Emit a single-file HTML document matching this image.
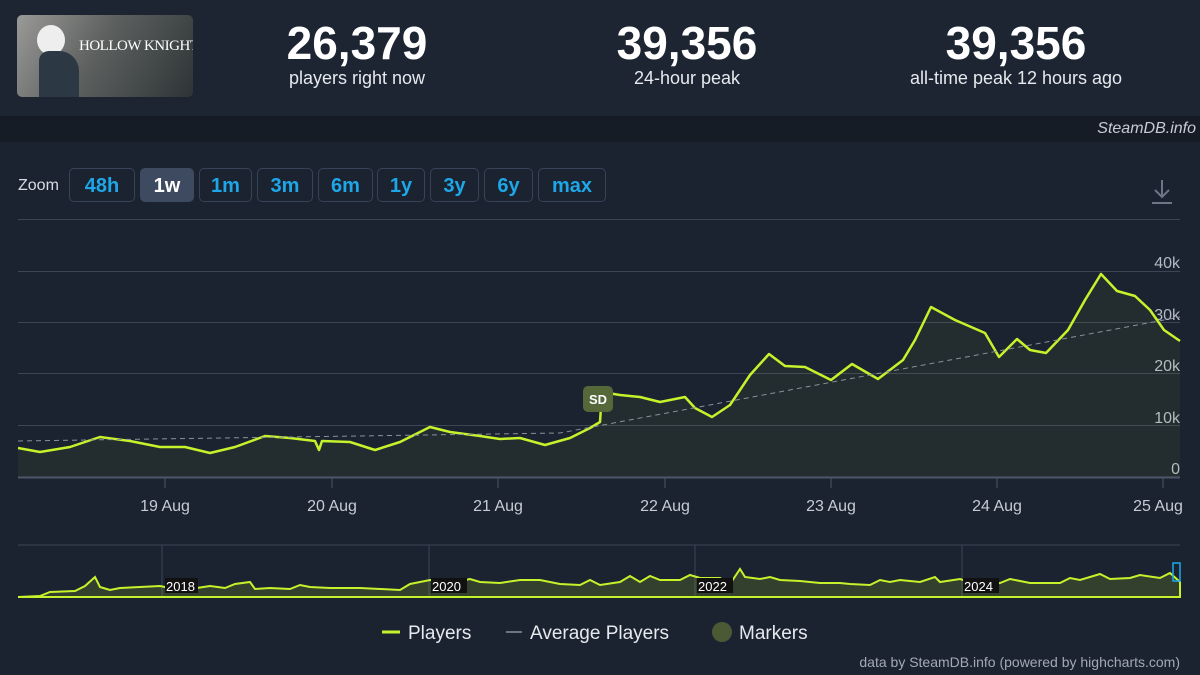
<!DOCTYPE html><html><head><style>
body{margin:0;width:1200px;height:675px;background:#1b2230;font-family:"Liberation Sans",sans-serif;overflow:hidden;position:relative;color:#fff}
.top{position:absolute;left:0;top:0;width:1200px;height:116px;background:#1d2533}
.stat{position:absolute;top:18px;text-align:center;width:300px}
.stat b{display:block;font-size:46px;font-weight:bold;line-height:50px}
.stat span{font-size:18px;color:#e6e9ee}
.band{position:absolute;top:116px;left:0;width:1200px;height:26px;background:#161c26}
.btn{position:absolute;top:168px;height:34px;border:1px solid #374356;border-radius:5px;color:#1ea7e8;font-weight:bold;font-size:20px;line-height:34px;text-align:center;box-sizing:border-box}
</style></head><body>
<div class="top"></div>
<div style="position:absolute;left:17px;top:15px;width:176px;height:82px;border-radius:5px;background:linear-gradient(120deg,#9a9a98,#5d605f 45%,#2e3436);overflow:hidden">
<div style="position:absolute;left:20px;top:10px;width:28px;height:30px;border-radius:50%;background:#eee"></div>
<div style="position:absolute;left:22px;top:36px;width:40px;height:46px;background:#2c3844;border-radius:10px 20px 0 0"></div>
<div style="position:absolute;left:62px;top:23px;font-family:'Liberation Serif',serif;font-size:15px;color:#fff;white-space:nowrap;letter-spacing:-0.5px">HOLLOW KNIGHT</div></div>
<div class="stat" style="left:207px"><b>26,379</b><span>players right now</span></div>
<div class="stat" style="left:537px"><b>39,356</b><span>24-hour peak</span></div>
<div class="stat" style="left:866px"><b>39,356</b><span>all-time peak 12 hours ago</span></div>
<div class="band"></div>
<div style="position:absolute;right:4px;top:120px;font-size:16px;font-style:italic;color:#c7ccd4">SteamDB.info</div>
<div style="position:absolute;left:18px;top:177px;font-size:16px;color:#d8dde4">Zoom</div>
<div class="btn" style="left:69px;width:66px">48h</div>
<div class="btn" style="left:140px;width:54px;background:#3d4a5f;border-color:#3d4a5f;color:#fff">1w</div>
<div class="btn" style="left:199px;width:53px">1m</div>
<div class="btn" style="left:257px;width:56px">3m</div>
<div class="btn" style="left:318px;width:55px">6m</div>
<div class="btn" style="left:377px;width:48px">1y</div>
<div class="btn" style="left:430px;width:49px">3y</div>
<div class="btn" style="left:484px;width:49px">6y</div>
<div class="btn" style="left:538px;width:68px">max</div>
<svg width="1200" height="675" style="position:absolute;left:0;top:0">
<path d="M1162 180v17M1155 190l7 7 7-7M1152 203h20" stroke="#6b7686" stroke-width="2" fill="none"/>
<g stroke="#3a4556" stroke-width="1">
<line x1="18" x2="1180" y1="219.5" y2="219.5"/><line x1="18" x2="1180" y1="271.5" y2="271.5"/><line x1="18" x2="1180" y1="322.5" y2="322.5"/><line x1="18" x2="1180" y1="373.5" y2="373.5"/><line x1="18" x2="1180" y1="425.5" y2="425.5"/></g>
<line x1="18" x2="1180" y1="477.5" y2="477.5" stroke="#4a5669" stroke-width="2"/>
<g stroke="#4a5669"><line x1="165" x2="165" y1="478" y2="488"/><line x1="332" x2="332" y1="478" y2="488"/><line x1="498" x2="498" y1="478" y2="488"/><line x1="665" x2="665" y1="478" y2="488"/><line x1="831" x2="831" y1="478" y2="488"/><line x1="997" x2="997" y1="478" y2="488"/><line x1="1163" x2="1163" y1="478" y2="488"/></g>
<g fill="#b3bac6" font-size="16" text-anchor="end"><text x="1180" y="268">40k</text><text x="1180" y="320">30k</text><text x="1180" y="371">20k</text><text x="1180" y="423">10k</text><text x="1180" y="474">0</text></g>
<g fill="#c7ccd4" font-size="16" text-anchor="middle"><text x="165" y="511">19 Aug</text><text x="332" y="511">20 Aug</text><text x="498" y="511">21 Aug</text><text x="665" y="511">22 Aug</text><text x="831" y="511">23 Aug</text><text x="997" y="511">24 Aug</text><text x="1158" y="511">25 Aug</text></g>
<path d="M18 448L40 452L70 447L100 437L130 441L160 447L185 447L210 453L235 447L265 436L290 438L315 441L319 450L322 441L350 442L375 450L400 442L430 427L450 432L480 436L500 439L520 438L545 445L570 438L590 428L600 422L602 392L620 395L640 397L660 402L685 397L695 408L712 417L730 405L750 375L769 354L785 366L805 367L831 380L852 364L878 379L903 360L915 340L931 307L955 320L985 333L999 357L1017 339L1030 350L1046 353L1068 330L1085 300L1101 274L1117 291L1135 296L1150 310L1164 330L1180 341V477H18Z" fill="#c5f32b" fill-opacity="0.05"/>
<path d="M18 448L40 452L70 447L100 437L130 441L160 447L185 447L210 453L235 447L265 436L290 438L315 441L319 450L322 441L350 442L375 450L400 442L430 427L450 432L480 436L500 439L520 438L545 445L570 438L590 428L600 422L602 392L620 395L640 397L660 402L685 397L695 408L712 417L730 405L750 375L769 354L785 366L805 367L831 380L852 364L878 379L903 360L915 340L931 307L955 320L985 333L999 357L1017 339L1030 350L1046 353L1068 330L1085 300L1101 274L1117 291L1135 296L1150 310L1164 330L1180 341" fill="none" stroke="#c5f32b" stroke-width="2.5" stroke-linejoin="round"/>
<path d="M18 441L560 433L1180 317" stroke="#8a919b" stroke-dasharray="5,4" stroke-width="1" fill="none"/>
<rect x="583" y="386" width="30" height="26" rx="5" fill="#55683a"/><text x="598" y="404" font-size="13" font-weight="bold" text-anchor="middle" fill="#fff">SD</text>
<line x1="18" x2="1180" y1="545" y2="545" stroke="#3a4556"/>
<g stroke="#3a4556"><line x1="162" x2="162" y1="545" y2="597"/><line x1="429" x2="429" y1="545" y2="597"/><line x1="695" x2="695" y1="545" y2="597"/><line x1="962" x2="962" y1="545" y2="597"/></g>
<path d="M18 597L40 596L50 592L75 591L85 586L95 577L100 587L110 590L120 588L140 587L160 586L180 590L190 589L210 586L225 588L235 584L250 582L255 589L270 588L290 589L300 585L310 587L330 588L360 588L380 589L400 590L410 584L420 582L430 580L450 583L470 579L480 582L500 583L520 580L540 580L560 584L580 585L590 580L600 585L620 582L630 576L640 582L650 576L660 580L680 580L690 575L700 578L720 578L730 584L740 569L745 577L760 579L770 577L780 580L800 581L820 583L840 583L850 584L870 585L880 580L890 582L900 580L920 582L935 577L940 582L960 579L970 582L980 585L1000 583L1010 579L1030 583L1060 583L1070 578L1080 580L1100 574L1110 579L1130 578L1140 575L1160 578L1170 573L1180 582L1180 597Z" fill="#c5f32b" fill-opacity="0.15" stroke="#c5f32b" stroke-width="2"/>
<rect x="1173" y="563" width="7" height="18" fill="none" stroke="#1ea7e8" stroke-width="1.5"/>
<g font-size="13" fill="#fff"><rect x="165" y="578" width="33" height="15" fill="#111"/><text x="166" y="591">2018</text><rect x="431" y="578" width="36" height="15" fill="#111"/><text x="432" y="591">2020</text><rect x="697" y="578" width="36" height="15" fill="#111"/><text x="698" y="591">2022</text><rect x="963" y="578" width="36" height="15" fill="#111"/><text x="964" y="591">2024</text></g>
<line x1="382" x2="400" y1="632" y2="632" stroke="#c5f32b" stroke-width="3"/>
<line x1="506" x2="522" y1="632" y2="632" stroke="#8a919b" stroke-width="1.5"/>
<circle cx="722" cy="632" r="10" fill="#4b5a34"/>
<g font-size="19" fill="#e6e9ee"><text x="408" y="639">Players</text><text x="530" y="639">Average Players</text><text x="739" y="639">Markers</text></g>
<text x="1180" y="667" font-size="14" fill="#a3aab5" text-anchor="end">data by SteamDB.info (powered by highcharts.com)</text>
</svg>
</body></html>
